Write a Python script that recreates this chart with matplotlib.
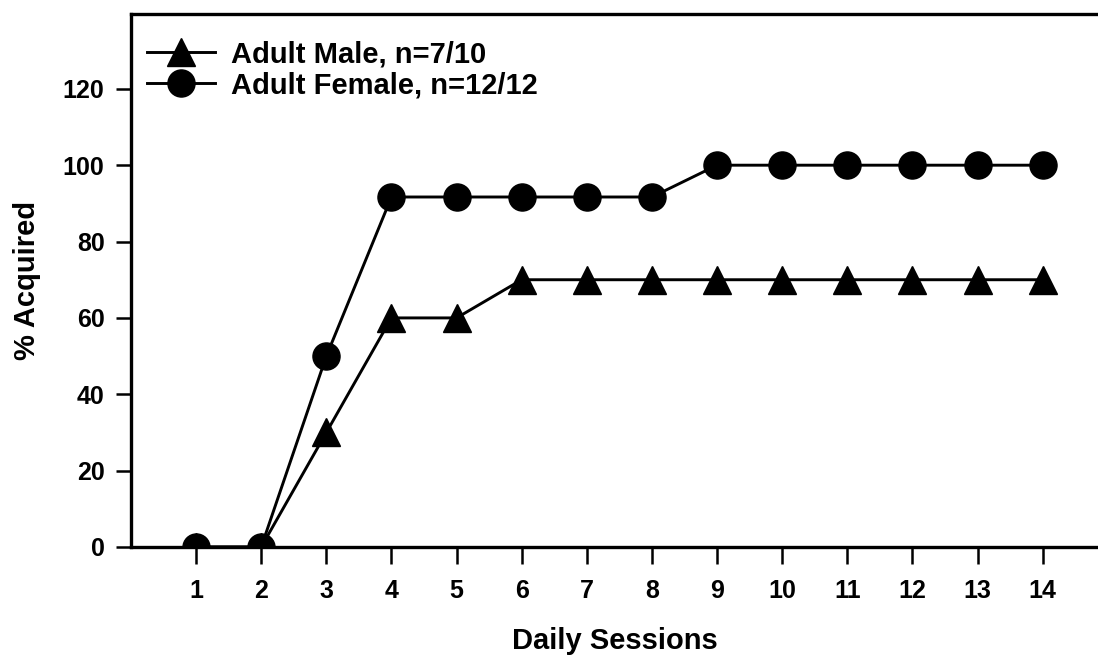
import numpy as np
import matplotlib
matplotlib.use('Agg')
import matplotlib.pyplot as plt

plt.rcParams['font.family'] = ['Liberation Sans', 'DejaVu Sans']
plt.rcParams['font.weight'] = 'bold'

# data
sessions = list(range(1, 15))
male = [0, 0, 30, 60, 60, 70, 70, 70, 70, 70, 70, 70, 70, 70]
female = [0, 0, 50, 91.67, 91.67, 91.67, 91.67, 91.67, 100, 100, 100, 100, 100, 100]
labels = ['Adult Male, n=7/10', 'Adult Female, n=12/12']
yticks = [0, 20, 40, 60, 80, 100, 120]

fig = plt.figure(figsize=(10.98, 6.55), dpi=100)
ax = fig.add_axes([131/1098, 1-547/655, 1-131/1098, (547-14)/655])

ax.plot(sessions, male, color='black', lw=2.1, marker='^', ms=20, label=labels[0], zorder=3)
ax.plot(sessions, female, color='black', lw=2.1, marker='o', ms=19.5, label=labels[1], zorder=4)

ax.set_xlim(0, 14.85)
ax.set_ylim(0, 139.6)
ax.set_xticks(sessions)
ax.set_yticks(yticks)
ax.spines['right'].set_visible(False)
for s in ['left', 'top', 'bottom']:
  ax.spines[s].set_linewidth(2.4)
ax.tick_params(axis='x', direction='out', length=12, width=1.8, pad=11, labelsize=18)
ax.tick_params(axis='y', direction='out', length=11, width=1.8, pad=8, labelsize=18)
for t in ax.get_xticklabels() + ax.get_yticklabels():
  t.set_fontweight('bold')

ax.set_xlabel('Daily Sessions', fontsize=21, fontweight='bold', labelpad=17)
ax.set_ylabel('% Acquired', fontsize=21, fontweight='bold', labelpad=16)

leg = ax.legend(loc='upper left', bbox_to_anchor=(16/967, 0.951), frameon=False,
                prop={'size': 21, 'weight': 'bold'}, handlelength=2.33,
                borderpad=0, borderaxespad=0, labelspacing=0.12, handletextpad=0.55)
for ln in leg.get_lines():
  ln.set_linewidth(2.1)

fig.savefig('out.png', dpi=100)
